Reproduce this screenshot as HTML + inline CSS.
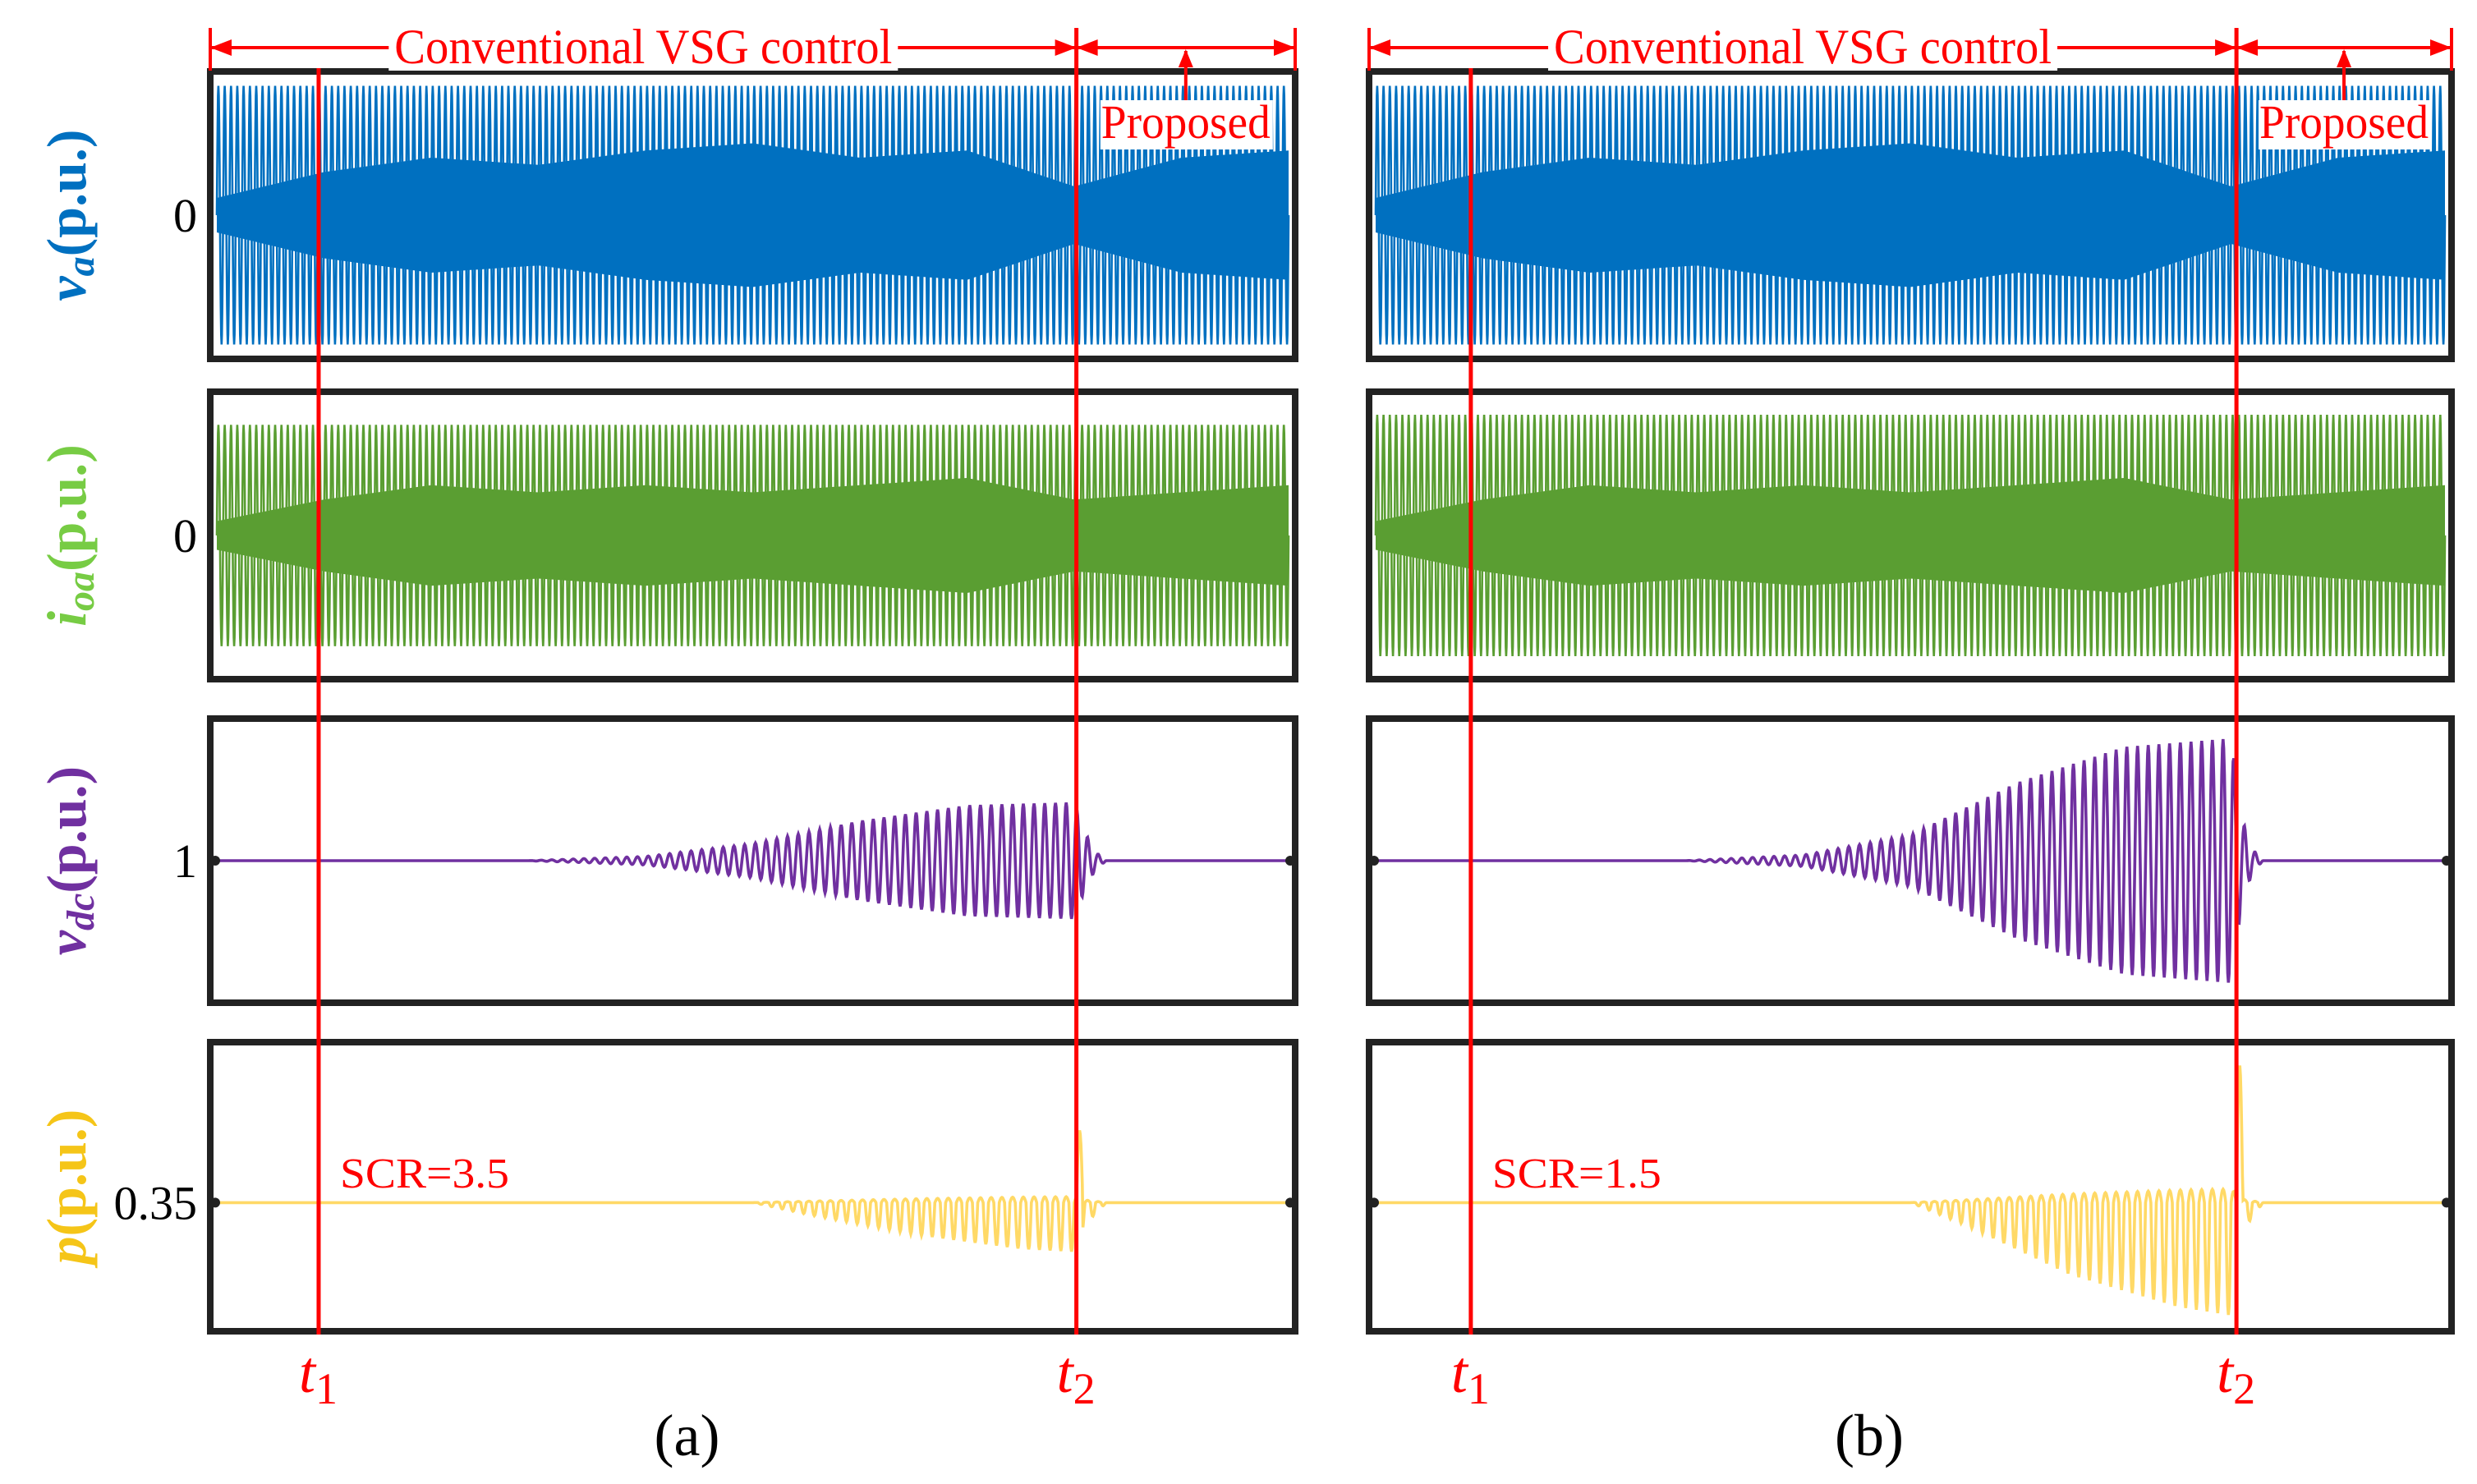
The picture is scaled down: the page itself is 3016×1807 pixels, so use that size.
<!DOCTYPE html>
<html><head><meta charset="utf-8"><style>
html,body{margin:0;padding:0;background:#fff;}
svg{display:block;}
text{font-family:"Liberation Serif",serif;}
</style></head><body>
<svg id="fig" width="3016" height="1807" viewBox="0 0 3016 1807" xmlns="http://www.w3.org/2000/svg">
<g id="traces"></g>
<g id="frames"></g>
<g id="ann"></g>
</svg>
<script>
// ---- data (normalized time 0..1 across each panel, amplitude as fraction of half panel height) ----
const panelNames = ["a", "b"];
const t1Values = [0.095, 0.089];
const t2Values = [0.802, 0.805];
const scrLabels = ["SCR=3.5", "SCR=1.5"];
const yTickLabels = ["0", "0", "1", "0.35"];
const yTitles = ["va", "ioa", "vdc", "p"];
// va envelope
const vaTimes = [0, 0.5, 1];
const vaAmpA = [0.9, 0.9, 0.9];
const vaAmpB = [0.9, 0.9, 0.9];
const vaCycles = 170;
// va dense inner band (visual aliasing band)
const bandTimes = [0, 0.1, 0.2, 0.3, 0.4, 0.5, 0.6, 0.7, 0.8, 0.9, 1];
const vaBandA = [0.12, 0.3, 0.4, 0.35, 0.45, 0.5, 0.4, 0.45, 0.2, 0.4, 0.45];
const vaBandB = [0.12, 0.3, 0.4, 0.35, 0.45, 0.5, 0.4, 0.45, 0.2, 0.4, 0.45];
// ioa envelope
const ioTimes = [0, 0.5, 1];
const ioAmpA = [0.77, 0.77, 0.77];
const ioAmpB = [0.84, 0.84, 0.84];
const ioCycles = 170;
const ioBandA = [0.1, 0.25, 0.35, 0.3, 0.35, 0.3, 0.35, 0.4, 0.25, 0.3, 0.35];
const ioBandB = [0.1, 0.25, 0.35, 0.3, 0.35, 0.3, 0.35, 0.4, 0.25, 0.3, 0.35];
// vdc envelope
const vdcTimes = [0, 0.29, 0.4, 0.5, 0.6, 0.7, 0.8, 0.81, 0.82, 0.83, 1];
const vdcAmpA = [0, 0, 0.03, 0.12, 0.28, 0.39, 0.41, 0.2, 0.06, 0, 0];
const vdcAmpB = [0, 0, 0.04, 0.18, 0.55, 0.8, 0.86, 0.3, 0.08, 0, 0];
const vdcCycles = 100;
// p: baseline offset, envelope (downward-biased oscillation)
const pBase = -0.11;
const pTimes = [0, 0.5, 0.55, 0.65, 0.75, 0.8, 0.81, 0.83, 1];
const pAmpA = [0, 0, 0.08, 0.22, 0.32, 0.34, 0.15, 0, 0];
const pAmpB = [0, 0, 0.15, 0.5, 0.72, 0.78, 0.2, 0, 0];
const pSpikeA = 0.5;
const pSpikeB = 0.95;
const pCycles = 100;

// ---- layout ----
const NS = "http://www.w3.org/2000/svg";
const panelX = [[256, 1577], [1667, 2985]];
const rowY = [[87, 437], [477, 827], [875, 1221], [1269, 1621]];
const colors = ["#0070C0", "#5A9E32", "#7030A0", "#FFD966"];
const titleColors = ["#0070C0", "#77CC44", "#7030A0", "#F5C518"];

function mk(tag, attrs, parent) {
  const e = document.createElementNS(NS, tag);
  for (const k in attrs) e.setAttribute(k, attrs[k]);
  parent.appendChild(e);
  return e;
}
function interp(ts, vs, t) {
  for (let i = 1; i < ts.length; i++) {
    if (t <= ts[i]) { const f = (t - ts[i-1]) / (ts[i] - ts[i-1] || 1); return vs[i-1] + f * (vs[i] - vs[i-1]); }
  }
  return vs[vs.length - 1];
}
const traces = document.getElementById("traces");
const frames = document.getElementById("frames");
const ann = document.getElementById("ann");

function xScale(p, t) { return panelX[p][0] + 8 + t * (panelX[p][1] - panelX[p][0] - 16); }
function yScale(r, v) { const c = (rowY[r][0] + rowY[r][1]) / 2, h = (rowY[r][1] - rowY[r][0]) / 2; return c - v * h; }

function drawBand(p, r, vals) {
  let top = "", bot = "";
  const N = 200;
  for (let i = 0; i <= N; i++) {
    const t = i / N, a = interp(bandTimes, vals, t);
    top += (i ? "L" : "M") + xScale(p, t).toFixed(1) + " " + yScale(r, a).toFixed(1);
  }
  for (let i = N; i >= 0; i--) {
    const t = i / N, a = interp(bandTimes, vals, t);
    bot += "L" + xScale(p, t).toFixed(1) + " " + yScale(r, -a).toFixed(1);
  }
  const el = mk("path", {d: top + bot + "Z", fill: colors[r], stroke: "none"}, traces);
  
  
}

function drawWave(p, r, ts, amps, cycles, opts) {
  const N = cycles * 16;
  let d = "";
  for (let i = 0; i <= N; i++) {
    const t = i / N;
    const a = interp(ts, amps, t);
    let v;
    if (opts && opts.p) {
      const s = Math.sin(2 * Math.PI * cycles * t);
      v = pBase + (s < 0 ? s * a : s * a * 0.12);
      if (t > t2Values[p] && t < t2Values[p] + 0.006) v = pBase + opts.spike * Math.sin(Math.PI * (t - t2Values[p]) / 0.006);
    } else {
      v = a * Math.sin(2 * Math.PI * cycles * t);
    }
    d += (i ? "L" : "M") + xScale(p, t).toFixed(1) + " " + yScale(r, v).toFixed(1);
  }
  const el = mk("path", {d: d, fill: "none", stroke: colors[r], "stroke-width": (r < 2 ? 2.6 : 3.6)}, traces);
  
  
}

for (let p = 0; p < 2; p++) {
  drawWave(p, 0, vaTimes, p ? vaAmpB : vaAmpA, vaCycles);
  drawBand(p, 0, p ? vaBandB : vaBandA);
  drawWave(p, 1, ioTimes, p ? ioAmpB : ioAmpA, ioCycles);
  drawBand(p, 1, p ? ioBandB : ioBandA);
  drawWave(p, 2, vdcTimes, p ? vdcAmpB : vdcAmpA, vdcCycles);
  drawWave(p, 3, pTimes, p ? pAmpB : pAmpA, pCycles, {p: true, spike: p ? pSpikeB : pSpikeA});
  for (let r = 0; r < 4; r++) {
    const f = mk("rect", {x: panelX[p][0], y: rowY[r][0], width: panelX[p][1] - panelX[p][0], height: rowY[r][1] - rowY[r][0], fill: "none", stroke: "#222", "stroke-width": 8}, frames);
    
    
  }
  const xt1 = xScale(p, t1Values[p]), xt2 = xScale(p, t2Values[p]);
  const l1 = mk("line", {x1: xt1, x2: xt1, y1: 83, y2: 1625, stroke: "#FF0000", "stroke-width": 5}, ann);
  
  
  const l2 = mk("line", {x1: xt2, x2: xt2, y1: 34, y2: 1625, stroke: "#FF0000", "stroke-width": 5}, ann);
  
  
  const x0 = panelX[p][0], x1 = panelX[p][1];
  const g = mk("g", {stroke: "#FF0000", "stroke-width": 4, fill: "#FF0000"}, ann);
  
  
  mk("line", {x1: x0, x2: x0, y1: 34, y2: 86}, g);
  mk("line", {x1: x1, x2: x1, y1: 34, y2: 86}, g);
  mk("line", {x1: x0, x2: x1, y1: 58, y2: 58}, g);
  mk("path", {d: `M${x0} 58 l26 -10 v20z M${xt2} 58 l-26 -10 v20z M${xt2} 58 l26 -10 v20z M${x1} 58 l-26 -10 v20z`, stroke: "none"}, g);
  const cx = (x0 + xt2) / 2;
  mk("rect", {x: cx - 310, y: 28, width: 620, height: 58, fill: "#fff", stroke: "none"}, g);
  const tx = mk("text", {x: cx, y: 77, "text-anchor": "middle", "font-size": 60, fill: "#FF0000", stroke: "none", textLength: 606, lengthAdjust: "spacingAndGlyphs"}, ann);
  tx.textContent = "Conventional VSG control";
  
  
  const px = (xt2 + x1) / 2;
  mk("line", {x1: px, x2: px, y1: 62, y2: 128, stroke: "#FF0000", "stroke-width": 4}, ann);
  mk("path", {d: `M${px} 60 l-9 22 h18z`, fill: "#FF0000"}, ann);
  mk("rect", {x: px - 104, y: 122, width: 210, height: 60, fill: "#fff"}, ann);
  const pr = mk("text", {x: px, y: 168, "text-anchor": "middle", "font-size": 58, fill: "#FF0000", textLength: 206, lengthAdjust: "spacingAndGlyphs"}, ann);
  pr.textContent = "Proposed";
  
  
  const sc = mk("text", {x: xScale(p, t1Values[p]) + 26, y: 1446, "font-size": 52, fill: "#FF0000", textLength: 206, lengthAdjust: "spacingAndGlyphs"}, ann);
  sc.textContent = scrLabels[p];
  
  
  [[xt1, "1"], [xt2, "2"]].forEach(([x, s]) => {
    const t = mk("text", {x: x - 24, y: 1695, "font-size": 72, fill: "#FF0000", "font-style": "italic"}, ann);
    t.innerHTML = 't<tspan font-style="normal" font-size="54" dy="14">' + s + '</tspan>';
    
    
  });
  const cap = mk("text", {x: (x0 + x1) / 2 - 80 + (p ? 30 : 0), y: 1772, "text-anchor": "middle", "font-size": 72, fill: "#000"}, ann);
  cap.textContent = "(" + panelNames[p] + ")";
  
  
  [2, 3].forEach(r => {
    const yy = r === 2 ? yScale(r, 0) : yScale(r, pBase);
    [x0 + 6, x1 - 6].forEach(x => mk("circle", {cx: x, cy: yy, r: 6, fill: "#222"}, frames));
  });
}
const tickY = [yScale(0, 0), yScale(1, 0), yScale(2, 0), yScale(3, pBase)];
const subs = ["a", "oa", "dc", ""];
const bases = ["v", "i", "v", "p"];
for (let r = 0; r < 4; r++) {
  const t = mk("text", {x: 240, y: tickY[r] + 20, "text-anchor": "end", "font-size": 58, fill: "#000"}, ann);
  t.textContent = yTickLabels[r];
  
  
  const cy = (rowY[r][0] + rowY[r][1]) / 2;
  const yt = mk("text", {x: 0, y: 0, transform: `translate(104 ${cy}) rotate(-90)`, "text-anchor": "middle", "font-size": 68, fill: titleColors[r], "font-weight": "bold"}, ann);
  yt.innerHTML = '<tspan font-style="italic">' + bases[r] + '</tspan>' + (subs[r] ? '<tspan font-style="italic" font-size="48" dy="10">' + subs[r] + '</tspan><tspan dy="-10">(p.u.)</tspan>' : '(p.u.)');
  
  
}
</script>
</body></html>
